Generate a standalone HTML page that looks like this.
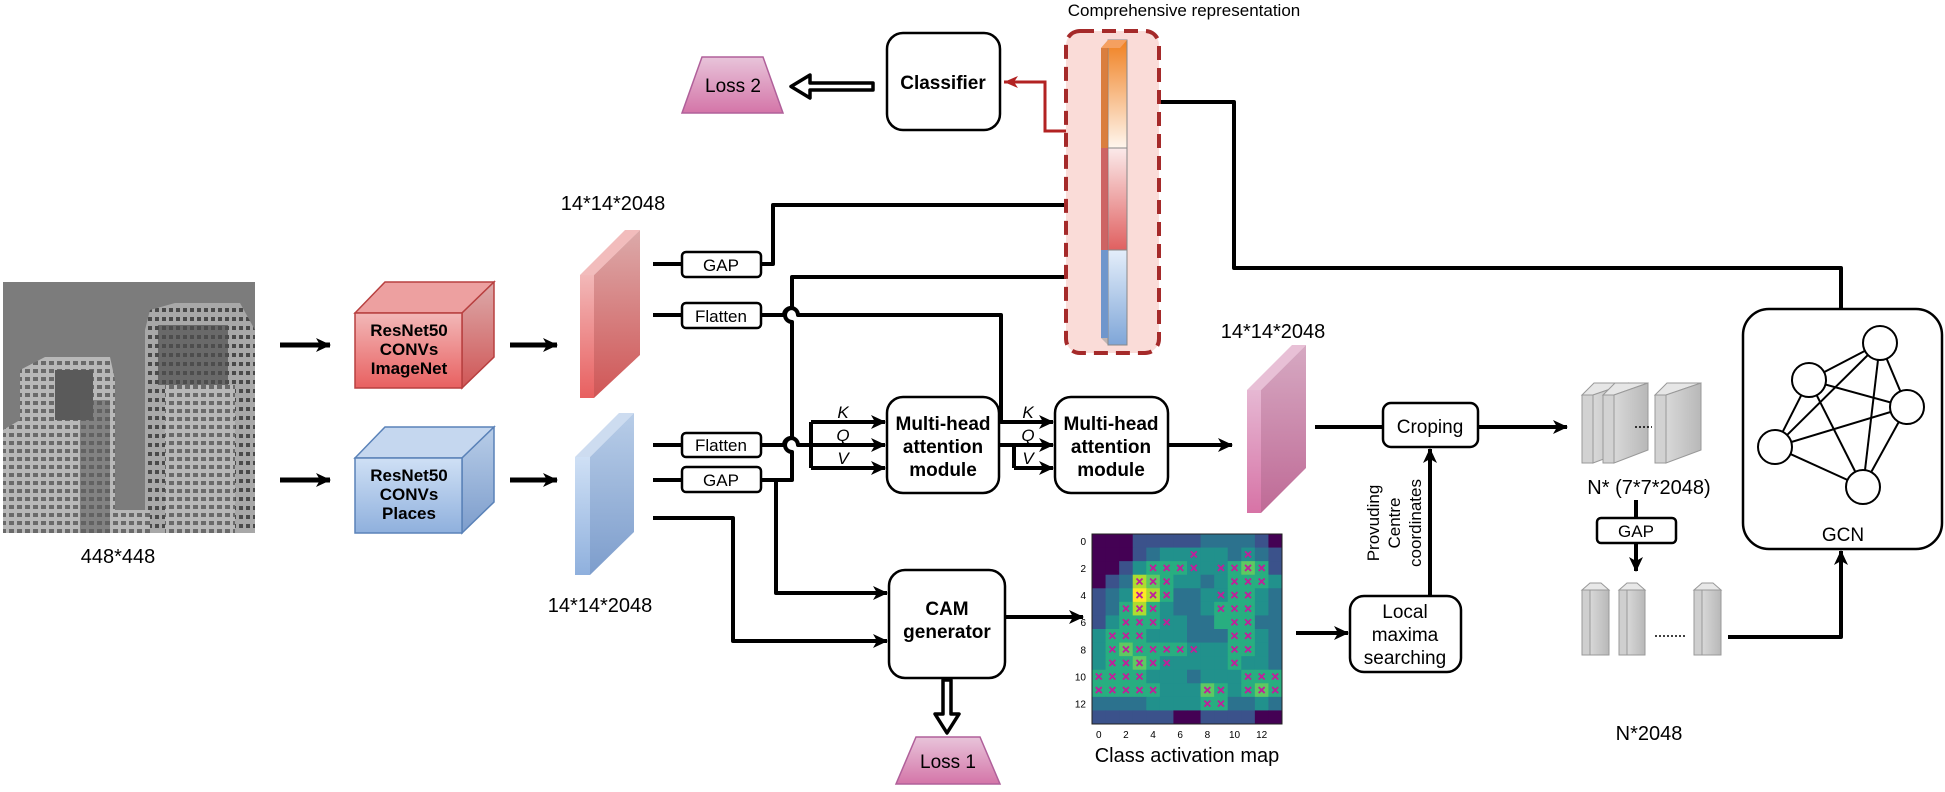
<!DOCTYPE html>
<html><head><meta charset="utf-8"><style>
html,body{margin:0;padding:0;background:#fff;}
svg{display:block;}
text{font-family:"Liberation Sans",Arial,sans-serif;fill:#000;}
.b{font-weight:bold;}
</style></head><body>
<svg id="s" width="1945" height="792" viewBox="0 0 1945 792" xmlns="http://www.w3.org/2000/svg">
<defs>
<marker id="ah" markerUnits="userSpaceOnUse" markerWidth="16" markerHeight="16" refX="14" refY="8" orient="auto">
<path d="M0,1 L15,8 L0,15 L4,8 Z" fill="#000"/></marker>
<marker id="ahr" markerUnits="userSpaceOnUse" markerWidth="16" markerHeight="16" refX="14" refY="8" orient="auto">
<path d="M0,2 L14,8 L0,14 L4,8 Z" fill="#b22222"/></marker>
<linearGradient id="gr" x1="0" y1="0" x2="0" y2="1"><stop offset="0" stop-color="#f2b8b8"/><stop offset="1" stop-color="#e86060"/></linearGradient>
<linearGradient id="grs" x1="0" y1="0" x2="0" y2="1"><stop offset="0" stop-color="#dcaaaa"/><stop offset="1" stop-color="#d05656"/></linearGradient>
<linearGradient id="gb" x1="0" y1="0" x2="0" y2="1"><stop offset="0" stop-color="#cfe0f5"/><stop offset="1" stop-color="#8fb0dd"/></linearGradient>
<linearGradient id="gbs" x1="0" y1="0" x2="0" y2="1"><stop offset="0" stop-color="#b8cde8"/><stop offset="1" stop-color="#7d9dcc"/></linearGradient>
<linearGradient id="gp" x1="0" y1="0" x2="0" y2="1"><stop offset="0" stop-color="#e6b8d3"/><stop offset="1" stop-color="#d773a6"/></linearGradient>
<linearGradient id="gps" x1="0" y1="0" x2="0" y2="1"><stop offset="0" stop-color="#d6a9c2"/><stop offset="1" stop-color="#bf6a96"/></linearGradient>
<linearGradient id="gl" x1="0" y1="0" x2="0" y2="1"><stop offset="0" stop-color="#e8c4da"/><stop offset="1" stop-color="#d475a8"/></linearGradient>
<linearGradient id="gg" x1="0" y1="0" x2="1" y2="0"><stop offset="0" stop-color="#d8d8d8"/><stop offset="1" stop-color="#b8b8b8"/></linearGradient>
<linearGradient id="gor" x1="0" y1="0" x2="0" y2="1"><stop offset="0" stop-color="#f08020"/><stop offset="1" stop-color="#fff6ee"/></linearGradient>
<linearGradient id="gre" x1="0" y1="0" x2="0" y2="1"><stop offset="0" stop-color="#fbeaea"/><stop offset="1" stop-color="#e06060"/></linearGradient>
<linearGradient id="gbl" x1="0" y1="0" x2="0" y2="1"><stop offset="0" stop-color="#e4eefa"/><stop offset="1" stop-color="#7fa6d8"/></linearGradient>
<pattern id="win" width="8" height="8" patternUnits="userSpaceOnUse"><rect width="8" height="8" fill="#b8b8b8"/><rect x="1" y="1" width="5" height="4" fill="#6a6a6a"/></pattern>
<pattern id="win2" width="7" height="9" patternUnits="userSpaceOnUse"><rect width="7" height="9" fill="#a8a8a8"/><rect x="1" y="2" width="4" height="4" fill="#4a4a4a"/></pattern>
</defs>

<!-- Photo -->
<rect x="3" y="282" width="252" height="251" fill="#7c7c7c"/>
<polygon points="20,370 45,357 110,357 115,380 115,533 3,533 3,430 20,420" fill="url(#win)"/>
<rect x="55" y="370" width="38" height="50" fill="#5a5a5a"/>
<polygon points="150,310 175,303 240,303 255,330 255,533 145,533 145,330" fill="url(#win2)"/>
<rect x="158" y="325" width="70" height="60" fill="#4e4e4e" opacity=".7"/>
<rect x="165" y="385" width="70" height="148" fill="url(#win)"/>
<rect x="3" y="440" width="55" height="93" fill="url(#win)"/>
<rect x="80" y="400" width="30" height="133" fill="#5d5d5d" opacity=".6"/>
<rect x="110" y="510" width="40" height="23" fill="url(#win)"/>
<text x="118" y="563" font-size="20" text-anchor="middle">448*448</text>

<g stroke="#000" stroke-width="5" fill="none">
<line x1="280" y1="345" x2="330" y2="345" marker-end="url(#ah)"/>
<line x1="280" y1="480" x2="330" y2="480" marker-end="url(#ah)"/>
<line x1="510" y1="345" x2="557" y2="345" marker-end="url(#ah)"/>
<line x1="510" y1="480" x2="557" y2="480" marker-end="url(#ah)"/>
</g>

<g stroke="#b84040" stroke-width="1.5">
<polygon points="355,313 385,282 494,282 462,313" fill="#eda0a0"/>
<polygon points="462,313 494,282 494,357 462,388" fill="url(#grs)"/>
<rect x="355" y="313" width="107" height="75" fill="url(#gr)"/>
</g>
<text class="b" font-size="17" text-anchor="middle"><tspan x="409" y="336">ResNet50</tspan><tspan x="409" y="355">CONVs</tspan><tspan x="409" y="374">ImageNet</tspan></text>
<g stroke="#5a82b8" stroke-width="1.5">
<polygon points="355,458 385,427 494,427 462,458" fill="#c5d7ef"/>
<polygon points="462,458 494,427 494,502 462,533" fill="url(#gbs)"/>
<rect x="355" y="458" width="107" height="75" fill="url(#gb)"/>
</g>
<text class="b" font-size="17" text-anchor="middle"><tspan x="409" y="481">ResNet50</tspan><tspan x="409" y="500">CONVs</tspan><tspan x="409" y="519">Places</tspan></text>

<text x="613" y="210" font-size="20" text-anchor="middle">14*14*2048</text>
<polygon points="580,275 625,230 640,230 594,275" fill="#f2bcbc"/>
<polygon points="594,275 640,230 640,355 594,398" fill="url(#grs)"/>
<rect x="580" y="275" width="14" height="123" fill="url(#gr)"/>
<polygon points="575,457 619,413 634,413 590,457" fill="#cddcf0"/>
<polygon points="590,457 634,413 634,532 590,575" fill="url(#gbs)"/>
<rect x="575" y="457" width="15" height="118" fill="url(#gb)"/>
<text x="600" y="612" font-size="20" text-anchor="middle">14*14*2048</text>

<g stroke="#000" stroke-width="4" fill="none" stroke-linejoin="round">
<line x1="653" y1="264" x2="682" y2="264"/>
<line x1="653" y1="315" x2="682" y2="315"/>
<line x1="653" y1="445" x2="682" y2="445"/>
<line x1="653" y1="480" x2="682" y2="480"/>
<path d="M761,264 H773 V205 H1100" marker-end="url(#ah)"/>
<path d="M761,315 H784 a7,7 0 0 1 14,0 H1001 V422 H1053" marker-end="url(#ah)"/>
<path d="M761,480 H792 V452 a7,7 0 0 1 0,-14 V322 a7,7 0 0 1 0,-14 V277 H1092" marker-end="url(#ah)"/>
<path d="M761,445 H784 a7,7 0 0 1 14,0 H811"/>
<path d="M811,422 V468"/>
<line x1="811" y1="422" x2="885" y2="422" marker-end="url(#ah)"/>
<line x1="811" y1="445" x2="885" y2="445" marker-end="url(#ah)"/>
<line x1="811" y1="468" x2="885" y2="468" marker-end="url(#ah)"/>
<path d="M999,445 H1014 V468"/>
<line x1="1014" y1="445" x2="1053" y2="445" marker-end="url(#ah)"/>
<line x1="1014" y1="468" x2="1053" y2="468" marker-end="url(#ah)"/>
<path d="M776,480 V593 H887" marker-end="url(#ah)"/>
<path d="M653,518 H733 V641 H887" marker-end="url(#ah)"/>
<line x1="1005" y1="617" x2="1083" y2="617" marker-end="url(#ah)"/>
<line x1="1168" y1="445" x2="1232" y2="445" marker-end="url(#ah)"/>
<line x1="1315" y1="427" x2="1383" y2="427"/>
<line x1="1478" y1="427" x2="1567" y2="427" marker-end="url(#ah)"/>
<line x1="1430" y1="596" x2="1430" y2="449" marker-end="url(#ah)"/>
<line x1="1296" y1="633" x2="1348" y2="633" marker-end="url(#ah)"/>
<path d="M1841,309 V268 H1234 V102 H1131" marker-end="url(#ah)"/>
<path d="M1728,637 H1841 V551" marker-end="url(#ah)"/>
<line x1="1636" y1="500" x2="1636" y2="518"/>
<line x1="1636" y1="543" x2="1636" y2="571" marker-end="url(#ah)"/>
</g>
<path d="M1100,131 H1045 V82 H1004" stroke="#b22222" stroke-width="3" fill="none" marker-end="url(#ahr)"/>

<g fill="#fff" stroke="#000" stroke-width="2.5">
<rect x="682" y="252" width="79" height="25" rx="4"/>
<rect x="682" y="303" width="79" height="25" rx="4"/>
<rect x="682" y="433" width="79" height="24" rx="4"/>
<rect x="682" y="467" width="79" height="25" rx="4"/>
<rect x="1597" y="518" width="79" height="25" rx="4"/>
</g>
<g font-size="17" text-anchor="middle">
<text x="721" y="271">GAP</text><text x="721" y="322">Flatten</text>
<text x="721" y="451">Flatten</text><text x="721" y="486">GAP</text>
<text x="1636" y="537">GAP</text>
</g>
<g font-size="17" font-style="italic" text-anchor="middle">
<text x="843" y="418">K</text><text x="843" y="441">Q</text><text x="843" y="464">V</text>
<text x="1028" y="418">K</text><text x="1028" y="441">Q</text><text x="1028" y="464">V</text>
</g>

<g fill="#fff" stroke="#000" stroke-width="2.5">
<rect x="887" y="397" width="112" height="96" rx="16"/>
<rect x="1055" y="397" width="113" height="96" rx="16"/>
<rect x="889" y="570" width="116" height="108" rx="16"/>
<rect x="887" y="33" width="113" height="97" rx="16"/>
<rect x="1383" y="403" width="95" height="44" rx="8"/>
<rect x="1350" y="596" width="111" height="76" rx="14"/>
<rect x="1743" y="309" width="199" height="240" rx="26"/>
</g>
<g class="b" font-size="19" text-anchor="middle">
<text x="943" y="430">Multi-head</text><text x="943" y="453">attention</text><text x="943" y="476">module</text>
<text x="1111" y="430">Multi-head</text><text x="1111" y="453">attention</text><text x="1111" y="476">module</text>
<text x="947" y="615">CAM</text><text x="947" y="638">generator</text>
<text x="943" y="89">Classifier</text>
</g>
<g font-size="19" text-anchor="middle">
<text x="1430" y="433">Croping</text>
<text x="1405" y="618">Local</text><text x="1405" y="641">maxima</text><text x="1405" y="664">searching</text>
<text x="1843" y="541">GCN</text>
<text x="1273" y="338" font-size="20">14*14*2048</text>
<text x="1649" y="494" font-size="20">N* (7*7*2048)</text>
<text x="1649" y="740" font-size="20">N*2048</text>
<text x="1187" y="762" font-size="20">Class activation map</text>
<text x="1184" y="16" font-size="17">Comprehensive representation</text>
</g>
<g font-size="17" text-anchor="middle">
<text transform="translate(1379,523) rotate(-90)">Provuding</text>
<text transform="translate(1400,523) rotate(-90)">Centre</text>
<text transform="translate(1421,523) rotate(-90)">coordinates</text>
</g>

<path d="M873,83 H810 V75 L791,86.5 L810,98 V90 H873 Z" fill="#fff" stroke="#000" stroke-width="3.5" stroke-linejoin="round"/>
<polygon points="702,57 763,57 783,113 682,113" fill="url(#gl)" stroke="#b0609a" stroke-width="1.5"/>
<text x="733" y="92" font-size="19" text-anchor="middle">Loss 2</text>
<path d="M943,680 V714 H935 L947,733 L959,714 H951 V680 Z" fill="#fff" stroke="#000" stroke-width="3.5" stroke-linejoin="round"/>
<polygon points="916,737 980,737 1000,784 896,784" fill="url(#gl)" stroke="#b0609a" stroke-width="1.5"/>
<text x="948" y="768" font-size="19" text-anchor="middle">Loss 1</text>

<rect x="1066" y="31" width="93" height="322" rx="14" fill="#fadcd8" stroke="#a52a2a" stroke-width="4" stroke-dasharray="14,8"/>
<polygon points="1101,48 1108,40 1108,345 1101,338" fill="#9a9a9a" opacity=".6"/>
<rect x="1108" y="40" width="19" height="108" fill="url(#gor)" stroke="#888" stroke-width="1"/>
<rect x="1108" y="148" width="19" height="102" fill="url(#gre)" stroke="#888" stroke-width="1"/>
<rect x="1108" y="250" width="19" height="95" fill="url(#gbl)" stroke="#888" stroke-width="1"/>
<polygon points="1101,48 1108,40 1127,40 1120,48" fill="#f5a060"/>
<rect x="1101" y="48" width="7" height="100" fill="#e07020" opacity=".8"/>
<rect x="1101" y="148" width="7" height="102" fill="#d05050" opacity=".8"/>
<rect x="1101" y="250" width="7" height="88" fill="#6f96cc"/>

<polygon points="1247,390 1292,345 1306,345 1261,390" fill="#e8c0d6"/>
<polygon points="1261,390 1306,345 1306,468 1261,513" fill="url(#gps)"/>
<rect x="1247" y="390" width="14" height="123" fill="url(#gp)"/>

<g stroke="#999" stroke-width="1">
<polygon points="1582,395 1594,383 1628,383 1593,395" fill="#e6e6e6"/><polygon points="1593,395 1628,383 1628,450 1593,463" fill="url(#gg)"/><rect x="1582" y="395" width="11" height="68" fill="#d2d2d2"/>
<polygon points="1603,395 1615,383 1648,383 1614,395" fill="#e6e6e6"/><polygon points="1614,395 1648,383 1648,450 1614,463" fill="url(#gg)"/><rect x="1603" y="395" width="11" height="68" fill="#d2d2d2"/>
<polygon points="1655,395 1667,383 1701,383 1666,395" fill="#e6e6e6"/><polygon points="1666,395 1701,383 1701,450 1666,463" fill="url(#gg)"/><rect x="1655" y="395" width="11" height="68" fill="#d2d2d2"/>
</g>
<line x1="1635" y1="427" x2="1652" y2="427" stroke="#000" stroke-width="1.5" stroke-dasharray="2,2"/>
<g stroke="#999" stroke-width="1">
<polygon points="1582,590 1590,583 1601,583 1609,590" fill="#e8e8e8"/><rect x="1582" y="590" width="8" height="65" fill="#cfcfcf"/><rect x="1590" y="590" width="19" height="65" fill="url(#gg)"/>
<polygon points="1619,590 1627,583 1637,583 1645,590" fill="#e8e8e8"/><rect x="1619" y="590" width="8" height="65" fill="#cfcfcf"/><rect x="1627" y="590" width="18" height="65" fill="url(#gg)"/>
<polygon points="1694,590 1702,583 1713,583 1721,590" fill="#e8e8e8"/><rect x="1694" y="590" width="8" height="65" fill="#cfcfcf"/><rect x="1702" y="590" width="19" height="65" fill="url(#gg)"/>
</g>
<line x1="1655" y1="636" x2="1686" y2="636" stroke="#000" stroke-width="1.5" stroke-dasharray="2,2"/>

<!-- GCN graph: 5 nodes, complete -->
<g stroke="#000" stroke-width="2" fill="none">
<line x1="1880" y1="343" x2="1809" y2="380"/><line x1="1880" y1="343" x2="1907" y2="407"/>
<line x1="1880" y1="343" x2="1775" y2="447"/><line x1="1880" y1="343" x2="1863" y2="487"/>
<line x1="1809" y1="380" x2="1907" y2="407"/><line x1="1809" y1="380" x2="1775" y2="447"/>
<line x1="1809" y1="380" x2="1863" y2="487"/><line x1="1907" y1="407" x2="1775" y2="447"/>
<line x1="1907" y1="407" x2="1863" y2="487"/><line x1="1775" y1="447" x2="1863" y2="487"/>
</g>
<g stroke="#000" stroke-width="2" fill="#fff">
<circle cx="1880" cy="343" r="17"/><circle cx="1809" cy="380" r="17"/>
<circle cx="1907" cy="407" r="17"/><circle cx="1775" cy="447" r="17"/>
<circle cx="1863" cy="487" r="17"/>
</g>

<g id="hm"></g>
<rect x="1092" y="534" width="190" height="190" fill="none" stroke="#222" stroke-width="1"/>
</svg>
<script>
var rows=["00011111222210","00012333332321","00134443334541","01265433234443","12376422334432","12464322344432","13444332244422","34443332224432","34544443334432","34454333334332","44443332333444","44444333543454","22223333442232","11111100111100"];
var col=["#440154","#3b528b","#2c728e","#21918c","#28ae80","#5ec962","#addc30","#fde725"];
var x=[[],[7,11],[4,5,6,7,9,10,11,12],[3,4,5,10,11,12],[3,4,5,9,10,11],[2,3,4,9,10,11],[2,3,4,5,10,11],[1,2,3,10,11],[1,2,3,4,5,6,7,10,11],[1,2,3,4,5,10],[0,1,2,3,11,12,13],[0,1,2,3,4,8,9,11,12,13],[8,9],[]];
var s="",c=190/14;
for(var r=0;r<14;r++){for(var k=0;k<14;k++){s+='<rect x="'+(1092+k*c)+'" y="'+(534+r*c)+'" width="'+(c+.5)+'" height="'+(c+.5)+'" fill="'+col[+rows[r][k]]+'"/>';}
x[r].forEach(function(k){var cx=1092+k*c+c/2,cy=534+r*c+c/2;s+='<path d="M'+(cx-3)+','+(cy-3)+'L'+(cx+3)+','+(cy+3)+'M'+(cx+3)+','+(cy-3)+'L'+(cx-3)+','+(cy+3)+'" stroke="#c0209a" stroke-width="1.8"/>';});}
for(var t=0;t<=12;t+=2){s+='<text x="1086" y="'+(534+t*c+c/2+4)+'" font-size="10" text-anchor="end">'+t+'</text>';s+='<text x="'+(1092+t*c+c/2)+'" y="738" font-size="10" text-anchor="middle">'+t+'</text>';}
document.getElementById("hm").innerHTML=s;
</script>
</body></html>
